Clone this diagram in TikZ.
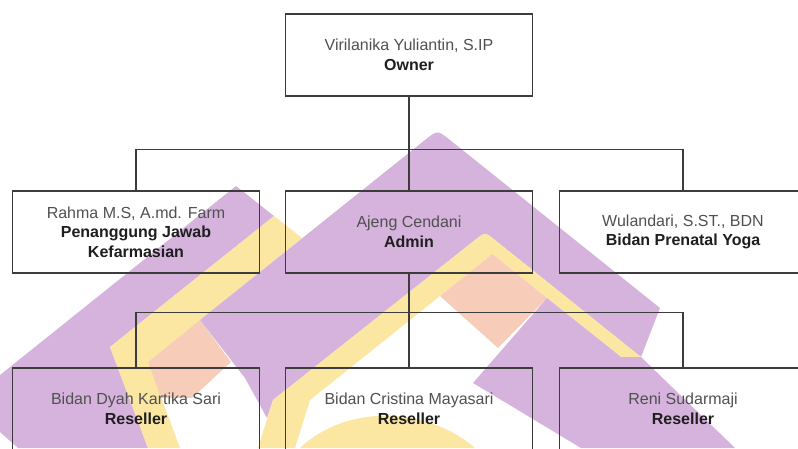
\documentclass[tikz,border=0pt]{standalone}
\usepackage{fontspec}
\setmainfont{Liberation Sans}
\definecolor{wmpurple}{HTML}{D5B3DD}
\definecolor{wmyellow}{HTML}{FBE6A2}
\definecolor{wmsalmon}{HTML}{F7CDB9}
\definecolor{boxline}{HTML}{3C3C3C}
\definecolor{namegray}{HTML}{505050}
\definecolor{rolecol}{HTML}{1E1E1E}
\begin{document}
\begin{tikzpicture}[x=1pt,y=-1pt,
  orgbox/.style={draw=boxline, line width=1.3pt, minimum width=247pt, minimum height=82pt,
    align=center, inner sep=0pt, font=\fontsize{16}{19.5}\selectfont, text=namegray},
  link/.style={draw=boxline, line width=1.3pt},
  role/.style={}]
\useasboundingbox (0,0) rectangle (798,448);
\clip (0,0) rectangle (798,448);
% watermark shapes
\fill[wmpurple] (236,186) -- (274,216) -- (110,347) -- (148,448) -- (18,448) -- (0,432) -- (0,375) -- cycle;
\fill[wmyellow] (274,216) -- (302,238) -- (148,362) -- (180,448) -- (148,448) -- (110,347) -- cycle;
\fill[wmsalmon] (148,362) -- (200,320) -- (231,362) -- (192,398) -- (161,398) -- cycle;
\fill[wmpurple] (200,320) -- (425,140) .. controls (437.5,130) .. (450,140) -- (660,308) -- (641,357)
  -- (495,240) .. controls (485,232) .. (475,240) -- (273,400) -- (267,418) -- (245,378) -- cycle;
\fill[wmyellow] (475,240) .. controls (485,232) .. (495,240) -- (641,357) -- (621,357) -- (492.5,254)
  -- (310,400) -- (295,448) -- (258,448) -- (273,400) -- cycle;
\fill[wmsalmon] (492.5,254) -- (440,296) -- (498,348) -- (547,298) -- cycle;
\fill[wmpurple] (473,383) -- (547,298) -- (621,357) -- (641,357) -- (735,448) -- (581,448) -- cycle;
\fill[wmyellow] (300,448) .. controls (345,405) and (425,405) .. (475,448) -- cycle;
% boxes
\node[orgbox] (owner) at (409,55) {Virilanika Yuliantin, S.IP\\\textcolor{rolecol}{\bfseries Owner}};
\node[orgbox] (pharm) at (136,232) {Rahma M.S, A.md. Farm\\\textcolor{rolecol}{\bfseries Penanggung Jawab}\\\textcolor{rolecol}{\bfseries Kefarmasian}};
\node[orgbox] (admin) at (409,232) {Ajeng Cendani\\\textcolor{rolecol}{\bfseries Admin}};
\node[orgbox] (yoga) at (683,232) {Wulandari, S.ST., BDN\\\textcolor{rolecol}{\bfseries Bidan Prenatal Yoga}};
\node[orgbox] (resa) at (136,409) {Bidan Dyah Kartika Sari\\\textcolor{rolecol}{\bfseries Reseller}};
\node[orgbox] (resb) at (409,409) {Bidan Cristina Mayasari\\\textcolor{rolecol}{\bfseries Reseller}};
\node[orgbox] (resc) at (683,409) {Reni Sudarmaji\\\textcolor{rolecol}{\bfseries Reseller}};
% connectors
\draw[link] (owner.south) -- (admin.north);
\draw[link] (pharm.north) -- ++(0,-41) -| (yoga.north);
\draw[link] (admin.south) -- (resb.north);
\draw[link] (resa.north) -- ++(0,-55) -| (resc.north);
\end{tikzpicture}
\end{document}
